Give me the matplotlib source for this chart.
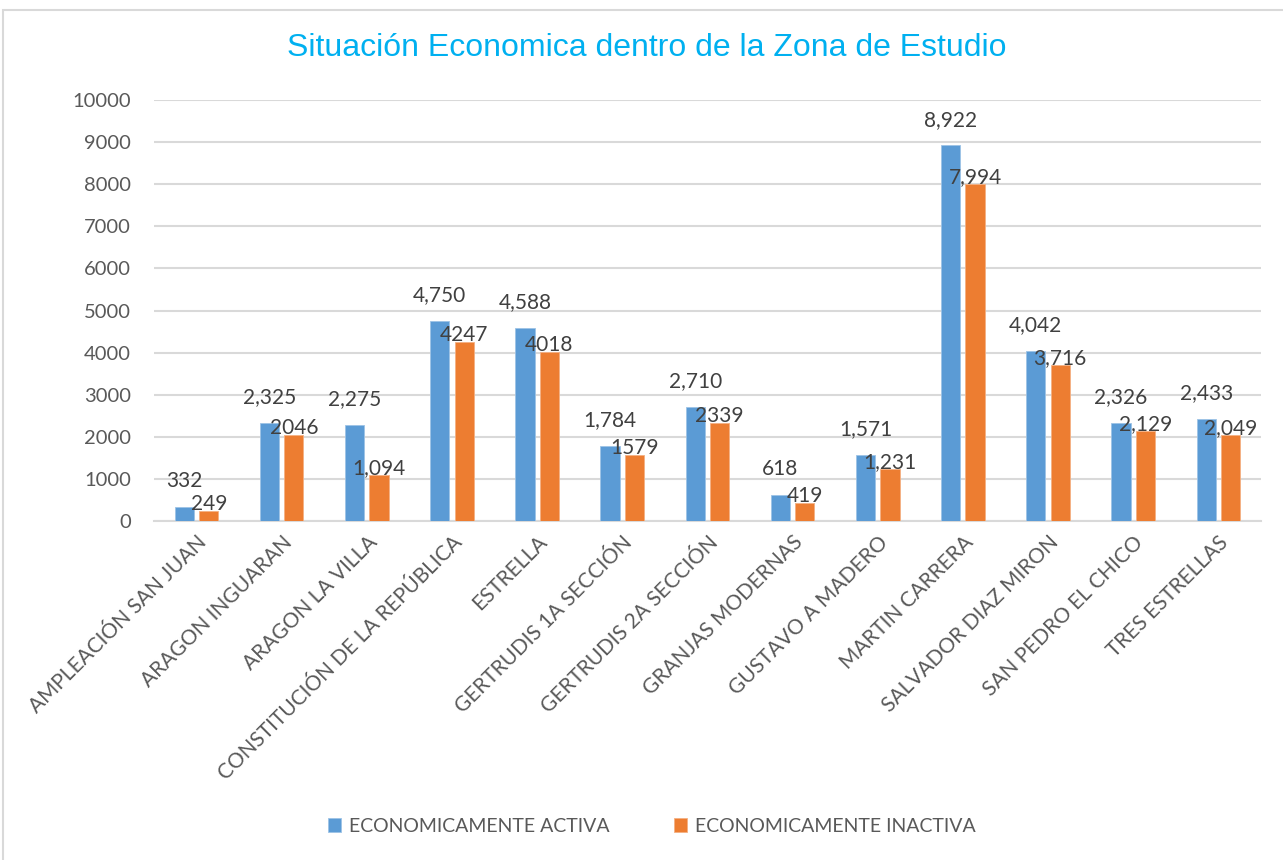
import numpy as np
from matplotlib import pyplot as plt
from matplotlib.patches import Rectangle

# Data
colonias = ['AMPLEACIÓN SAN JUAN', 'ARAGON INGUARAN', 'ARAGON LA VILLA',
            'CONSTITUCIÓN DE LA REPÚBLICA', 'ESTRELLA', 'GERTRUDIS 1A SECCIÓN',
            'GERTRUDIS 2A SECCIÓN', 'GRANJAS MODERNAS', 'GUSTAVO A MADERO',
            'MARTIN CARRERA', 'SALVADOR DIAZ MIRON', 'SAN PEDRO EL CHICO',
            'TRES ESTRELLAS']
activa = [332, 2325, 2275, 4750, 4588, 1784, 2710, 618, 1571, 8922, 4042, 2326, 2433]
inactiva = [249, 2046, 1094, 4247, 4018, 1579, 2339, 419, 1231, 7994, 3716, 2129, 2049]
activa_text = ['332', '2,325', '2,275', '4,750', '4,588', '1,784', '2,710', '618',
               '1,571', '8,922', '4,042', '2,326', '2,433']
inactiva_text = ['249', '2046', '1,094', '4247', '4018', '1579', '2339', '419',
                 '1,231', '7,994', '3,716', '2,129', '2,049']
yticks = [0, 1000, 2000, 3000, 4000, 5000, 6000, 7000, 8000, 9000, 10000]

blue = '#5B9BD5'
orange = '#ED7D31'
grey_text = '#595959'
grid_col = '#D9D9D9'

plt.rcParams['font.family'] = ['Lato', 'DejaVu Sans']

fig = plt.figure(figsize=(12.83, 8.6), dpi=100)
ax = fig.add_axes([0.1200, 0.3942, 0.8628, 0.4895])

# chart border
fig.patches.append(Rectangle((3 / 1283, -0.05), 1.1, 1 - 10 / 860 + 0.05,
                             transform=fig.transFigure, fill=False,
                             edgecolor='#D9D9D9', linewidth=1.5))

x = np.arange(len(colonias))
width = 0.226
off = 0.143
b1 = ax.bar(x - off, activa, width, color=blue, edgecolor='#9DC3E6',
            linewidth=0.6, label='ECONOMICAMENTE ACTIVA', zorder=3)
b2 = ax.bar(x + off, inactiva, width, color=orange, edgecolor='#F4B183',
            linewidth=0.6, label='ECONOMICAMENTE INACTIVA', zorder=3)

for xi, v, t in zip(x, activa, activa_text):
    ax.annotate(t, (xi - off, v), xytext=(0, 18.5), textcoords='offset points',
                ha='center', va='center', fontsize=15, color='#404040', zorder=4)
for xi, v, t in zip(x, inactiva, inactiva_text):
    ax.annotate(t, (xi + off, v), xytext=(0, 5), textcoords='offset points',
                ha='center', va='center', fontsize=15, color='#404040', zorder=4)

ax.set_xlim(-0.5, len(colonias) - 0.5)
ax.set_ylim(0, 10000)
ax.set_yticks(yticks)
ax.set_yticklabels([str(t) for t in yticks], fontsize=14.5, color=grey_text)
ax.yaxis.grid(True, color=grid_col, linewidth=1.5, zorder=0)
ax.set_axisbelow(True)
ax.tick_params(axis='y', length=0, pad=16.5)
ax.tick_params(axis='x', length=0, pad=8)
ax.set_xticks(x)
ax.set_xticklabels(colonias, rotation=45, ha='right', va='top',
                   rotation_mode='anchor', fontsize=15, color=grey_text)
for s in ['top', 'right', 'left']:
    ax.spines[s].set_visible(False)
ax.spines['bottom'].set_color(grid_col)
ax.spines['bottom'].set_linewidth(1.5)

fig.text(0.504, 1 - 48 / 860, 'Situación Economica dentro de la Zona de Estudio',
         ha='center', va='center', fontsize=23, color='#00B0F0',
         family=['Liberation Sans', 'DejaVu Sans'])

fig.legend(handles=[b1, b2], loc='center', bbox_to_anchor=(0.508, 1 - 826 / 860),
           ncol=2, frameon=False, fontsize=14, handlelength=0.7, handleheight=0.7,
           columnspacing=3.3, handletextpad=0.4, labelcolor=grey_text)

plt.savefig('out.png', dpi=100)
